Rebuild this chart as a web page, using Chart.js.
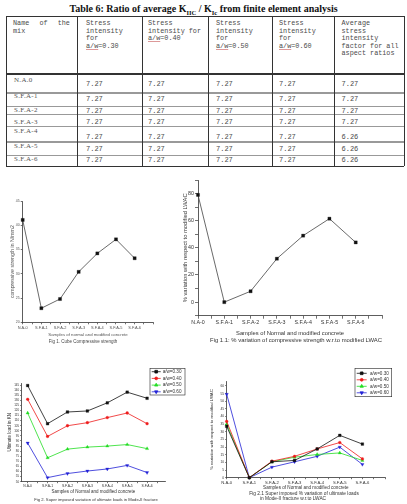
<!DOCTYPE html>
<html>
<head>
<meta charset="utf-8">
<script src="https://cdn.jsdelivr.net/npm/chart.js@4.4.1/dist/chart.umd.min.js"></script>
<style>
  body { margin: 0; width: 407px; height: 504px; background: #fff; position: relative; overflow: hidden; }
  .abs { position: absolute; white-space: nowrap; }
  #title { left: 0; top: 3px; width: 407px; text-align: center; font: bold 10px "Liberation Serif", serif; color: #111; }
  #title sub { font-size: 6.5px; }
  .cell { position: absolute; font: 6.8px "Liberation Mono", monospace; color: #4a4a4a; line-height: 7.5px; white-space: nowrap; }
  .aw { text-decoration: underline; text-decoration-color: #d99; }
  .cap { position: absolute; text-align: center; font-family: "Liberation Sans", Arial, sans-serif; white-space: nowrap; }
  canvas { position: absolute; }
</style>
</head>
<body>
<div id="title" class="abs">Table 6: Ratio of average K<sub>IIC</sub> / K<sub>Ic</sub> from finite element analysis</div>
<div id="table"></div>

<canvas id="c1" width="200" height="150" style="left:0;top:190px"></canvas>
<canvas id="c2" width="227" height="180" style="left:180px;top:170px"></canvas>
<canvas id="c3" width="205" height="142" style="left:0;top:362px"></canvas>
<canvas id="c4" width="202" height="142" style="left:205px;top:362px"></canvas>

<div class="cap" style="left:-17px;width:200px;top:339px;font-size:4.5px;color:#444">Fig 1. Cube Compressive strength</div>
<div class="cap" style="left:196px;width:200px;top:337px;font-size:5.9px;color:#333">Fig 1.1: % variation of compressive strength w.r.to modified LWAC</div>
<div class="cap" style="left:-4px;width:200px;top:496.5px;font-size:4.2px;color:#333">Fig 2. Super imposed variation of ultimate loads in Mode-II fracture</div>
<div class="cap" style="left:204px;width:200px;top:490.8px;font-size:4.8px;color:#333">Fig 2.1 Super imposed % variation of ultimate loads</div>
<div class="cap" style="left:193px;width:200px;top:496px;font-size:4.8px;color:#333">in Mode-II fracture w.r.to LWAC</div>

<script>
// ---- data ----
const categories = ['N.A-0', 'S.F.A-1', 'S.F.A-2', 'S.F.A-3', 'S.F.A-4', 'S.F.A-5', 'S.F.A-6'];

// Fig 1 and Fig 1.1
const cubeStrength = [41.1, 22.9, 24.8, 30.4, 34.2, 37.1, 33.2];
const strengthVariation = [79, 0, 8, 32, 49, 61.5, 44];

// Fig 2 and Fig 2.1
const awLabels = ['a/w=0.30', 'a/w=0.40', 'a/w=0.50', 'a/w=0.60'];
const loadAw30 = [144.5, 107, 118.5, 119.5, 127.5, 138, 132];
const loadAw40 = [131, 94.5, 105, 108, 113, 117.5, 107];
const loadAw50 = [117.5, 73.5, 82, 84, 85, 86.5, 82.5];
const loadAw60 = [88, 54, 58, 60.5, 62.5, 66, 59];
const varAw30 = [33.6, 0, 10.4, 11.3, 18.8, 27.7, 22];
const varAw40 = [36.8, 0, 10.8, 14, 18.8, 23, 12.3];
const varAw50 = [35, 0, 10.4, 13.4, 15.2, 16.2, 11.3];
const varAw60 = [54.6, 0, 6.9, 10.4, 14, 20, 8.7];

// Table 6
const mixNames = ['N.A.0', 'S.F.A-1', 'S.F.A-2', 'S.F.A-3', 'S.F.A-4', 'S.F.A-5', 'S.F.A-6'];
const kAw30 = [7.27, 7.27, 7.27, 7.27, 7.27, 7.27, 7.27];
const kAw40 = [7.27, 7.27, 7.27, 7.27, 7.27, 7.27, 7.27];
const kAw50 = [7.27, 7.27, 7.27, 7.27, 7.27, 7.27, 7.27];
const kAw60 = [7.27, 7.27, 7.27, 7.27, 7.27, 7.27, 7.27];
const kAverage = [7.27, 7.27, 7.27, 7.27, 6.26, 6.26, 6.26];
const headers = [
  ['Name of the', 'mix'],
  ['Stress', 'intensity', 'for', '<span class="aw">a/w</span>=0.30'],
  ['Stress', 'intensity for', '<span class="aw">a/w</span>=0.40'],
  ['Stress', 'intensity', 'for', '<span class="aw">a/w</span>=0.50'],
  ['Stress', 'intensity', 'for', '<span class="aw">a/w</span>=0.60'],
  ['Average', 'stress', 'intensity', 'factor for all', 'aspect ratios']
];

// ---- table ----
const tbl = document.getElementById('table');
const colX = [6, 77, 142, 208, 272, 334, 404];
const colPad = [7, 9, 6, 8, 7, 7.5];
const rowY = [16, 74, 93, 106.7, 114.3, 126.7, 142, 155.3, 166];
const labelY = [80.5, 96.5, 111, 122.5, 132, 146.5, 159.5];
const valueY = [85, 99.3, 111.7, 123, 138, 150, 161];

function box(x, y, w, h, bg) {
  const d = document.createElement('div');
  d.style.cssText = `position:absolute;left:${x}px;top:${y}px;width:${w}px;height:${h}px;background:${bg}`;
  tbl.appendChild(d);
}
function text(html, x, yc, extra) {
  const d = document.createElement('div');
  d.className = 'cell';
  d.innerHTML = html;
  d.style.left = x + 'px';
  d.style.top = (yc - 3.75) + 'px';
  if (extra) d.style.cssText += extra;
  tbl.appendChild(d);
}

// borders
rowY.forEach((y, i) => {
  const outer = i === 0 || i === rowY.length - 1;
  box(colX[0], y - (outer ? 0.5 : 0.8), colX[6] - colX[0], outer ? 1 : 1.6, outer || i === 1 ? '#333' : '#999');
});
colX.forEach(x => box(x - 0.5, rowY[0], 1, rowY[rowY.length - 1] - rowY[0], '#333'));

// header text
headers.forEach((lines, c) => {
  lines.forEach((ln, k) => {
    text(ln, colX[c] + colPad[c], 24 + k * 7.5, c === 0 && k === 0 ? 'word-spacing:6px' : '');
  });
});

// body
const tableCols = [kAw30, kAw40, kAw50, kAw60, kAverage];
mixNames.forEach((name, r) => {
  text(name, colX[0] + 8, labelY[r], 'font-family:"Liberation Serif",serif;font-size:7px;letter-spacing:0.3px;color:#555');
  tableCols.forEach((col, c) => {
    text(col[r].toFixed(2), colX[c + 1] + colPad[c + 1], valueY[r], 'font-size:7px');
  });
});

// ---- charts ----
Chart.defaults.font.family = '"Liberation Sans", Arial, sans-serif';
Chart.defaults.color = '#444';

const toXY = arr => arr.map((v, i) => ({ x: i, y: v }));

// boxed legend drawn inside the plot, like the Origin graphs
const boxLegend = {
  id: 'boxLegend',
  afterDraw(chart, args, o) {
    if (!o || !o.show) return;
    const ctx = chart.ctx;
    ctx.save();
    ctx.lineWidth = 0.6;
    ctx.strokeStyle = '#222';
    ctx.strokeRect(o.x, o.y, o.w, o.h);
    ctx.font = `${o.fontSize}px "Liberation Sans", Arial, sans-serif`;
    ctx.textBaseline = 'middle';
    chart.data.datasets.forEach((ds, i) => {
      const yy = o.firstY + i * o.step;
      ctx.strokeStyle = ds.borderColor;
      ctx.fillStyle = ds.pointBackgroundColor;
      ctx.lineWidth = 0.8;
      ctx.beginPath();
      ctx.moveTo(o.lineX, yy);
      ctx.lineTo(o.lineX + o.lineW, yy);
      ctx.stroke();
      Chart.helpers.drawPoint(ctx, {
        pointStyle: ds.pointStyle, rotation: ds.pointRotation || 0,
        radius: ds.pointRadius, borderWidth: 0.5
      }, o.lineX + o.lineW / 2, yy);
      ctx.fillStyle = '#333';
      ctx.fillText(ds.label, o.textX, yy);
    });
    ctx.restore();
  }
};

function makeChart(id, datasets, o) {
  const axisCol = '#333';
  return new Chart(document.getElementById(id), {
    type: 'line',
    data: { datasets },
    plugins: [boxLegend],
    options: {
      responsive: false,
      animation: false,
      layout: { padding: o.pad },
      plugins: {
        legend: { display: false },
        tooltip: { enabled: false },
        boxLegend: o.legend || { show: false }
      },
      scales: {
        x: {
          type: 'linear', min: o.xMin, max: o.xMax,
          afterFit: a => { a.height = o.xH; },
          border: { color: axisCol, width: 0.8 },
          grid: { drawOnChartArea: false, tickLength: o.tickLen, color: axisCol, lineWidth: 0.7 },
          ticks: {
            stepSize: 0.5, includeBounds: false, autoSkip: false, maxRotation: 0, padding: 1,
            font: { size: o.xTick }, color: o.textCol,
            callback: v => (Number.isInteger(v) ? (categories[v] ?? '') : '')
          },
          title: { display: true, text: o.xTitle, padding: 0, font: { size: o.xTitleSize }, color: o.textCol }
        },
        y: {
          min: o.yMin, max: o.yMax,
          afterFit: a => { a.width = o.yW; },
          border: { color: axisCol, width: 0.8 },
          grid: { drawOnChartArea: false, tickLength: o.tickLen, color: axisCol, lineWidth: 0.7 },
          ticks: {
            stepSize: o.yStep, includeBounds: false, autoSkip: false, padding: 1,
            font: { size: o.yTick }, color: o.textCol,
            callback: o.yLabel || (v => v)
          },
          title: { display: true, text: o.yTitle, padding: 0, font: { size: o.yTitleSize }, color: o.textCol }
        }
      }
    }
  });
}

function single(values) {
  return [{
    data: toXY(values), borderColor: '#444', borderWidth: 0.8, tension: 0, clip: false,
    pointStyle: 'rect', pointRadius: 2.2, pointBackgroundColor: '#111', pointBorderColor: '#111', pointBorderWidth: 0.3
  }];
}

const seriesStyle = [
  { color: '#111111', style: 'rect', radius: 1.9, rot: 0 },
  { color: '#ee1c1c', style: 'circle', radius: 1.4, rot: 0 },
  { color: '#22dd22', style: 'triangle', radius: 1.9, rot: 0 },
  { color: '#2222d6', style: 'triangle', radius: 1.9, rot: 180 }
];
function multi(seriesList) {
  return seriesList.map((vals, i) => ({
    label: awLabels[i], data: toXY(vals), borderColor: seriesStyle[i].color, borderWidth: 0.8, tension: 0, clip: false,
    pointStyle: seriesStyle[i].style, pointRotation: seriesStyle[i].rot, pointRadius: seriesStyle[i].radius,
    pointBackgroundColor: seriesStyle[i].color, pointBorderColor: seriesStyle[i].color, pointBorderWidth: 0.3
  }));
}

// Fig 1
makeChart('c1', single(cubeStrength), {
  pad: { left: 9, top: 11, right: 46.7, bottom: 2.3 }, xH: 15.4, yW: 13.7,
  xMin: 0, xMax: 7, yMin: 20, yMax: 45, yStep: 5, tickLen: 2,
  xTick: 3.9, yTick: 3.5, xTitleSize: 4.3, yTitleSize: 5.2, textCol: '#555',
  xTitle: 'Samples of normal and modified concrete', yTitle: 'compressive strength in N/mm2'
});

// Fig 1.1
makeChart('c2', single(strengthVariation), {
  pad: { left: 1.5, top: 10, right: 25, bottom: 13.2 }, xH: 21.1, yW: 16.5,
  xMin: 0, xMax: 7, yMin: -10, yMax: 90, yStep: 10, tickLen: 3,
  yLabel: v => (v % 20 === 0 ? v : ''),
  xTick: 5.3, yTick: 5.3, xTitleSize: 5.8, yTitleSize: 5.8, textCol: '#333',
  xTitle: 'Samples of Normal and modified concrete', yTitle: '% variation with respect to modified LWAC'
});

// Fig 2
makeChart('c3', multi([loadAw30, loadAw40, loadAw50, loadAw60]), {
  pad: { left: 7.3, top: 21, right: 40, bottom: 9.6 }, xH: 12.7, yW: 14.4,
  xMin: -0.3, xMax: 6.9, yMin: 50, yMax: 147, yStep: 5, tickLen: 1.5,
  xTick: 3.4, yTick: 3, xTitleSize: 4.5, yTitleSize: 4.5, textCol: '#333',
  xTitle: 'Samples of Normal and modified concrete', yTitle: 'Ultimate load in KN',
  legend: { show: true, x: 150, y: 6.3, w: 35, h: 26.7, firstY: 9.7, step: 6.7, lineX: 151.7, lineW: 9, textX: 162.7, fontSize: 4.6 }
});

// Fig 2.1
makeChart('c4', multi([varAw30, varAw40, varAw50, varAw60]), {
  pad: { left: 4.1, top: 19.4, right: 22, bottom: 13.5 }, xH: 12.8, yW: 17.6,
  xMin: 0, xMax: 7, yMin: 0, yMax: 63, yStep: 5, tickLen: 1.5,
  xTick: 4.2, yTick: 3.3, xTitleSize: 4.6, yTitleSize: 4.3, textCol: '#333',
  xTitle: 'Samples of Normal and modified concrete', yTitle: '% variation with respect to modified LWAC',
  legend: { show: true, x: 150, y: 6.3, w: 36.7, h: 28.4, firstY: 11.3, step: 6.5, lineX: 151.7, lineW: 10, textX: 165, fontSize: 4.6 }
});
</script>
</body>
</html>
